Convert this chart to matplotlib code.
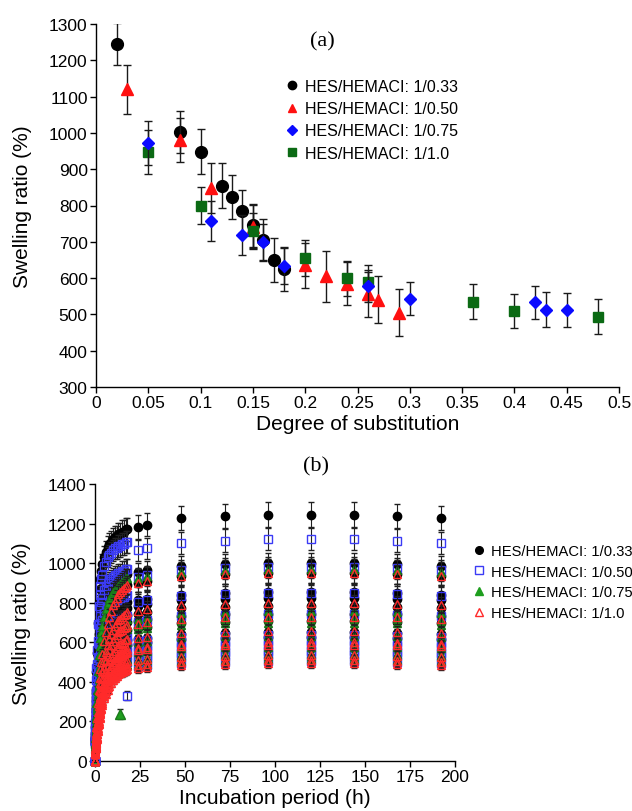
import matplotlib
matplotlib.use('Agg')
import matplotlib.pyplot as plt
from matplotlib.lines import Line2D

plt.rcParams['font.family'] = ['Liberation Sans', 'DejaVu Sans']

# ---- (a) equilibrium swelling ratio vs degree of substitution
ds_033 = [0.02, 0.08, 0.10, 0.12, 0.13, 0.14, 0.15, 0.16, 0.17, 0.18]
sr_033 = [1245, 1003, 948, 854, 824, 784, 745, 706, 650, 625]
er_033 = [57, 58, 62, 62, 60, 59, 58, 58, 60, 60]

ds_050 = [0.03, 0.08, 0.11, 0.15, 0.20, 0.22, 0.24, 0.26, 0.27, 0.29]
sr_050 = [1120, 980, 848, 742, 636, 605, 585, 555, 540, 505]
er_050 = [68, 60, 70, 60, 62, 70, 60, 62, 65, 65]

ds_075 = [0.05, 0.11, 0.14, 0.16, 0.18, 0.26, 0.30, 0.42, 0.43, 0.45]
sr_075 = [972, 758, 720, 700, 634, 578, 543, 533, 513, 513]
er_075 = [60, 55, 55, 50, 50, 45, 46, 46, 48, 47]

ds_100 = [0.05, 0.10, 0.15, 0.20, 0.24, 0.26, 0.36, 0.40, 0.48]
sr_100 = [948, 800, 730, 655, 600, 588, 535, 510, 494]
er_100 = [60, 50, 50, 50, 48, 48, 48, 47, 48]

labels = ['HES/HEMACI: 1/0.33', 'HES/HEMACI: 1/0.50',
          'HES/HEMACI: 1/0.75', 'HES/HEMACI: 1/1.0']

# ---- (b) swelling kinetics; each curve levels off at its value in (a)
t_early = [0, 0.25, 0.5, 0.75, 1, 1.5, 2, 2.5, 3, 3.5, 4, 5, 6, 7, 8,
           9, 10, 11, 12, 13, 14, 15, 16, 17, 18]
frac_033 = [0, .14, .26, .36, .44, .56, .64, .70, .74, .77, .80, .83, .85,
            .87, .88, .89, .90, .91, .91, .92, .92, .93, .93, .94, .94]
frac_050 = [0, .17, .31, .42, .50, .62, .70, .75, .79, .82, .84, .88, .90,
            .92, .93, .94, .95, .96, .96, .97, .97, .98, .98, .99, .99]
frac_075 = [0, .12, .22, .30, .37, .47, .55, .60, .64, .67, .70, .75, .79,
            .82, .84, .86, .88, .89, .90, .91, .92, .93, .94, .95, .95]
frac_100 = [0, .07, .13, .18, .23, .31, .38, .44, .49, .53, .57, .64, .69,
            .73, .77, .80, .83, .85, .87, .89, .90, .91, .92, .93, .94]
t_late = [24, 29, 48, 72, 96, 120, 144, 168, 192]
frac_late = [0.95, 0.96, 0.985, 0.995, 1.0, 1.0, 1.0, 0.995, 0.985]
rel_err = 0.05

# two stray points
odd_t_050, odd_sr_050, odd_er_050 = [17.5], [330], [22]
odd_t_075, odd_sr_075, odd_er_075 = [14], [238], [25]

W, H = 632, 812
fig = plt.figure(figsize=(W / 100, H / 100), dpi=100)


def px_axes(left, top, right, bottom):
    return fig.add_axes([left / W, 1 - bottom / H, (right - left) / W, (bottom - top) / H])


def style(ax):
    for s in ['top', 'right']:
        ax.spines[s].set_visible(False)
    for s in ['left', 'bottom']:
        ax.spines[s].set_linewidth(1.0)
    ax.tick_params(direction='out', length=4, width=1, labelsize=12.5, pad=2)


BLACK = '#000000'
RED = '#ff1010'
BLUE = '#0a0aff'
GREEN = '#0b6a14'
eb = dict(ecolor='#1a1a1a', elinewidth=1.0, capsize=3, capthick=1.0, ls='none')

# ---------------- panel (a)
ax1 = px_axes(96, 25, 619, 388)
style(ax1)
ax1.errorbar(ds_033, sr_033, yerr=er_033, marker='o', ms=8.5, mfc=BLACK, mec=BLACK, **eb, zorder=3)
ax1.errorbar(ds_050, sr_050, yerr=er_050, marker='^', ms=8.5, mfc=RED, mec=RED, **eb, zorder=4)
ax1.errorbar(ds_075, sr_075, yerr=er_075, marker='D', ms=6.5, mfc=BLUE, mec=BLUE, **eb, zorder=5)
ax1.errorbar(ds_100, sr_100, yerr=er_100, marker='s', ms=7.5, mfc=GREEN, mec=GREEN, **eb, zorder=4)
ax1.set_xlim(0, 0.5)
ax1.set_ylim(300, 1300)
ax1.set_xticks([0, 0.05, 0.1, 0.15, 0.2, 0.25, 0.3, 0.35, 0.4, 0.45, 0.5])
ax1.set_xticklabels(['0', '0.05', '0.1', '0.15', '0.2', '0.25', '0.3', '0.35', '0.4', '0.45', '0.5'])
ax1.set_yticks(range(300, 1301, 100))
ax1.set_xlabel('Degree of substitution', fontsize=15, labelpad=3)
ax1.set_ylabel('Swelling ratio (%)', fontsize=15, labelpad=12)

h_a = [Line2D([], [], ls='none', marker='o', ms=6, color=BLACK),
       Line2D([], [], ls='none', marker='^', ms=6, color=RED),
       Line2D([], [], ls='none', marker='D', ms=5, color=BLUE),
       Line2D([], [], ls='none', marker='s', ms=5.5, color=GREEN)]
fig.legend(h_a, labels, loc='upper left', bbox_to_anchor=(284 / W, 1 - 80 / H),
           frameon=False, fontsize=11.5, handlelength=1.0, handletextpad=0.3,
           labelspacing=0.45, borderpad=0, borderaxespad=0)
fig.text(322 / W, 1 - 42 / H, '(a)', family='Liberation Serif', fontsize=16,
         ha='center', va='center')

# ---------------- panel (b)
ax2 = px_axes(95, 485, 455, 762)
style(ax2)
groups = [(sr_033, frac_033, 'o', BLACK, BLACK),
          (sr_050, frac_050, 's', 'none', '#3b3bf5'),
          (sr_075, frac_075, '^', '#1e9e1e', '#1a7a1a'),
          (sr_100, frac_100, '^', 'none', '#ff2a2a')]
times = t_early + t_late
z = 3
for plateaus, frac, mk, fc, ec in groups:
    fr = frac + frac_late
    for p in plateaus:
        y = [p * f for f in fr]
        ax2.errorbar(times, y, yerr=[v * rel_err for v in y], marker=mk, ms=6,
                     mfc=fc, mec=ec, mew=1.0, ecolor='#202020', elinewidth=0.8,
                     capsize=2.5, capthick=0.8, ls='none', zorder=z, clip_on=False)
    z += 1
ax2.errorbar(odd_t_050, odd_sr_050, yerr=odd_er_050, marker='s', ms=6, mfc='none',
             mec='#3b3bf5', ecolor='#202020', elinewidth=0.8, capsize=2.5, ls='none', zorder=8)
ax2.errorbar(odd_t_075, odd_sr_075, yerr=odd_er_075, marker='^', ms=7, mfc='#1e9e1e',
             mec='#1a7a1a', ecolor='#202020', elinewidth=0.8, capsize=2.5, ls='none', zorder=8)
ax2.set_xlim(0, 200)
ax2.set_ylim(0, 1400)
ax2.set_xticks(range(0, 201, 25))
ax2.set_yticks(range(0, 1401, 200))
ax2.set_xlabel('Incubation period (h)', fontsize=15, labelpad=3)
ax2.set_ylabel('Swelling ratio (%)', fontsize=15, labelpad=12)

h_b = [Line2D([], [], ls='none', marker='o', ms=5.5, color=BLACK),
       Line2D([], [], ls='none', marker='s', ms=5.5, mfc='white', mec='#3b3bf5'),
       Line2D([], [], ls='none', marker='^', ms=6, color='#1e9e1e'),
       Line2D([], [], ls='none', marker='^', ms=6, mfc='white', mec='#ff2a2a')]
fig.legend(h_b, labels, loc='upper left', bbox_to_anchor=(472 / W, 1 - 545 / H),
           frameon=False, fontsize=10.6, handlelength=1.0, handletextpad=0.3,
           labelspacing=0.45, borderpad=0, borderaxespad=0)
fig.text(316 / W, 1 - 467 / H, '(b)', family='Liberation Serif', fontsize=16,
         ha='center', va='center')

fig.savefig('out.png', dpi=100)
